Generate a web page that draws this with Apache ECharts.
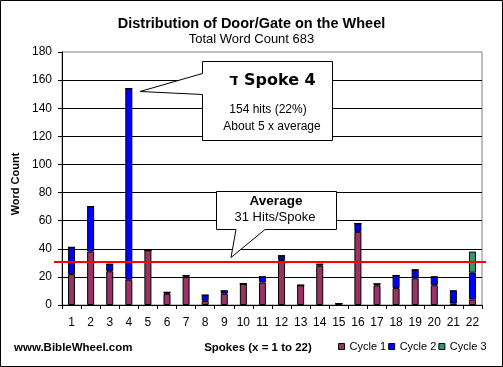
<!DOCTYPE html>
<html>
<head>
<meta charset="utf-8">
<script src="https://cdn.jsdelivr.net/npm/echarts@6/dist/echarts.min.js"></script>
<style>
html,body{margin:0;padding:0;background:#fff;}
#c{width:503px;height:367px;}
</style>
</head>
<body>
<div id="c"></div>
<script>
const categories = ['1','2','3','4','5','6','7','8','9','10','11','12','13','14','15','16','17','18','19','20','21','22'];
const cycle1 = [22,38,24,18,39,8,20,3,8,15,16,32,14,28,1,52,14,12,19,14,1,4];
const cycle2 = [19,32,5,136,0,1,1,4,2,0,4,3,0,1,0,6,1,9,6,6,9,19];
const cycle3 = [0,0,0,0,0,0,0,0,0,0,0,0,0,0,0,0,0,0,0,0,0,15];
const yTicks = {min:0, max:180, interval:20};
const averageValue = 31;
const seriesNames = ['Cycle 1','Cycle 2','Cycle 3'];
const seriesColors = ['#993366','#0000FF','#339966'];

const FONT = '"Liberation Sans", Arial, "DejaVu Sans", sans-serif';
const WIDE = '"DejaVu Sans", "Liberation Sans", sans-serif';
const chart = echarts.init(document.getElementById('c'), null, {renderer:'canvas'});

const barStyle = (c) => ({color:c, borderColor:'#000', borderWidth:1});

const option = {
  backgroundColor:'#fff',
  animation:false,
  textStyle:{fontFamily:FONT, color:'#000'},
  title:[
    {text:'Distribution of Door/Gate on the Wheel', left:'center', top:11,
     textStyle:{fontSize:14.5, fontWeight:'bold', color:'#000', fontFamily:FONT}},
    {text:'Total Word Count 683', left:'center', top:28,
     textStyle:{fontSize:13, fontWeight:'normal', color:'#000', fontFamily:FONT}},
    {text:'www.BibleWheel.com', left:9, top:337,
     textStyle:{fontSize:11.5, fontWeight:'bold', color:'#000', fontFamily:FONT}}
  ],
  legend:{
    data:seriesNames, left:338, top:341, width:170, padding:0,
    itemWidth:6, itemHeight:6, itemGap:2,
    icon:'rect',
    textStyle:{fontSize:11, color:'#000', fontFamily:FONT},
    itemStyle:{borderColor:'#000', borderWidth:1}
  },
  grid:{left:62, right:21, top:52, bottom:62, show:true, borderColor:'#808080', borderWidth:1, backgroundColor:'transparent'},
  xAxis:{
    type:'category', data:categories,
    name:'Spokes (x = 1 to 22)', nameLocation:'middle', nameGap:37,
    nameTextStyle:{fontSize:11.5, fontWeight:'bold', color:'#000', fontFamily:FONT, padding:[0,28,0,0]},
    axisLine:{lineStyle:{color:'#000', width:1}},
    axisTick:{show:true, length:4, lineStyle:{color:'#000'}},
    axisLabel:{fontSize:12, color:'#000', margin:12, interval:0, fontFamily:FONT},
    splitLine:{show:false}
  },
  yAxis:{
    type:'value', min:yTicks.min, max:yTicks.max, interval:yTicks.interval,
    name:'Word Count', nameLocation:'middle', nameGap:41, nameRotate:90,
    nameTextStyle:{fontSize:11, fontWeight:'bold', color:'#000', fontFamily:FONT, padding:[0,11,0,0]},
    axisLine:{show:true, lineStyle:{color:'#000', width:1}},
    axisTick:{show:true, length:4, lineStyle:{color:'#000'}},
    axisLabel:{fontSize:12, color:'#000', margin:10, fontFamily:FONT},
    splitLine:{show:true, showMaxLine:false, lineStyle:{color:'#000', width:1}}
  },
  series:[
    {name:seriesNames[0], type:'bar', stack:'s', data:cycle1, barWidth:7, itemStyle:barStyle(seriesColors[0])},
    {name:seriesNames[1], type:'bar', stack:'s', data:cycle2, barWidth:7, itemStyle:barStyle(seriesColors[1])},
    {name:seriesNames[2], type:'bar', stack:'s', data:cycle3, barWidth:7, itemStyle:barStyle(seriesColors[2]),
     markLine:{silent:true, symbol:['none','none'], z:10, label:{show:false},
       lineStyle:{color:'#FF0000', width:2, type:'solid'},
       data:[[{x:54, yAxis:averageValue},{x:486, yAxis:averageValue}]]}}
  ],
  graphic:[
    {type:'rect', z:200, silent:true, shape:{x:0.5, y:0.5, width:502, height:366},
     style:{fill:'none', stroke:'#000', lineWidth:1}},
    {type:'polygon', z:100, silent:true,
     shape:{points:[[202.5,61.5],[332.5,61.5],[332.5,140.5],[202.5,140.5],[202.5,94.5],[140,91.5],[202.5,73.5]]},
     style:{fill:'#fff', stroke:'#000', lineWidth:1}},
    {type:'text', z:101, silent:true, left:229, top:73,
     style:{text:'ד Spoke 4', font:'bold 16px '+WIDE, fill:'#000'}},
    {type:'text', z:101, silent:true, x:268, y:110,
     style:{text:'154 hits (22%)', font:'12px '+FONT, fill:'#000', align:'center', verticalAlign:'middle'}},
    {type:'text', z:101, silent:true, x:272, y:127,
     style:{text:'About 5 x average', font:'12px '+FONT, fill:'#000', align:'center', verticalAlign:'middle'}},
    {type:'polygon', z:100, silent:true,
     shape:{points:[[216.5,191.5],[336.5,191.5],[336.5,229.5],[265,229.5],[231,257.5],[236,229.5],[216.5,229.5]]},
     style:{fill:'#fff', stroke:'#000', lineWidth:1}},
    {type:'text', z:101, silent:true, x:276, y:201,
     style:{text:'Average', font:'bold 13.5px '+FONT, fill:'#000', align:'center', verticalAlign:'middle'}},
    {type:'text', z:101, silent:true, x:275, y:217,
     style:{text:'31 Hits/Spoke', font:'13px '+FONT, fill:'#000', align:'center', verticalAlign:'middle'}}
  ]
};
chart.setOption(option);
</script>
</body>
</html>
